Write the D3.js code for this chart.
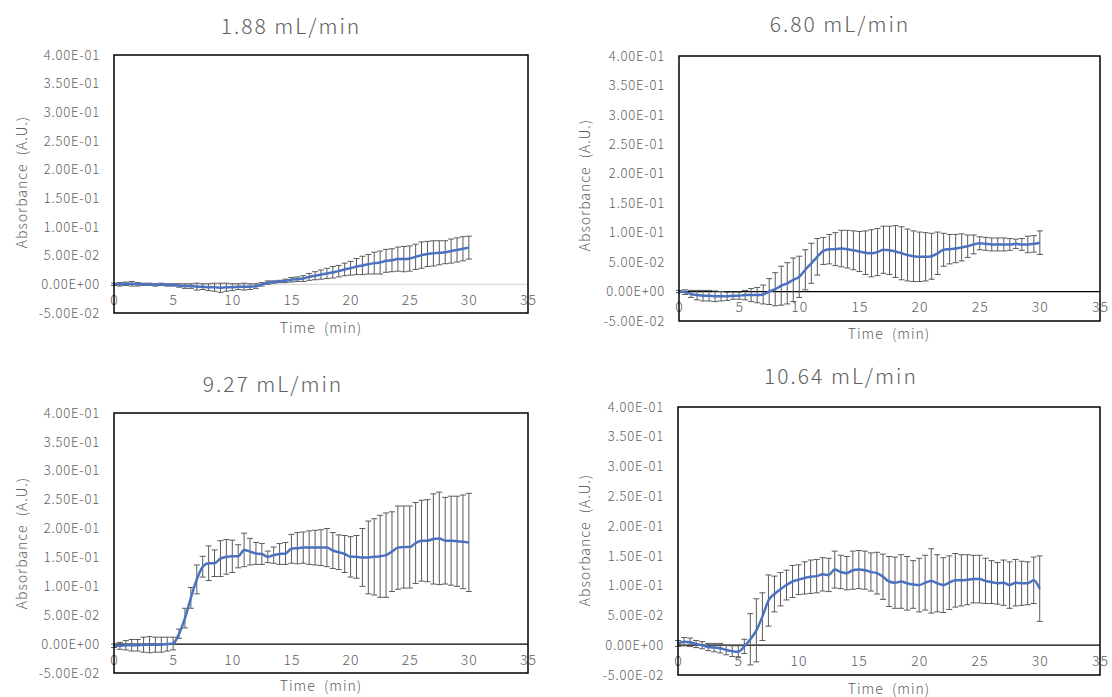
<!DOCTYPE html>
<html>
<head>
<meta charset="utf-8">
<script src="https://cdn.jsdelivr.net/npm/d3@7"></script>
<style>
  body { margin: 0; background: #fff; }
  svg text { font-family: "Noto Sans CJK JP", "Noto Sans", sans-serif; fill: #606060; font-weight: 300; white-space: pre; }
</style>
</head>
<body>
<svg id="chart" width="1112" height="697"></svg>
<script>
// sampling times (min), one point every 30 s
const times = [0, 0.5, 1, 1.5, 2, 2.5, 3, 3.5, 4, 4.5, 5, 5.5, 6, 6.5, 7, 7.5, 8, 8.5, 9, 9.5,
  10, 10.5, 11, 11.5, 12, 12.5, 13, 13.5, 14, 14.5, 15, 15.5, 16, 16.5, 17, 17.5, 18, 18.5, 19, 19.5,
  20, 20.5, 21, 21.5, 22, 22.5, 23, 23.5, 24, 24.5, 25, 25.5, 26, 26.5, 27, 27.5, 28, 28.5, 29, 29.5, 30];

const flowRates = ["1.88 mL/min", "6.80 mL/min", "9.27 mL/min", "10.64 mL/min"];

const xTicks = [0, 5, 10, 15, 20, 25, 30, 35];
const yTicks = [-0.05, 0, 0.05, 0.1, 0.15, 0.2, 0.25, 0.3, 0.35, 0.4];

// mean absorbance and error (A.U.)
const mean188 = [0.000, 0.000, 0.001, 0.001, 0.000, 0.000, 0.000, -0.001, 0.000, -0.001, -0.001,
  -0.002, -0.003, -0.003, -0.004, -0.004, -0.005, -0.005, -0.006, -0.005, -0.005, -0.004, -0.004,
  -0.004, -0.003, 0.000, 0.003, 0.004, 0.005, 0.006, 0.008, 0.009, 0.010, 0.013, 0.015, 0.017,
  0.019, 0.021, 0.023, 0.026, 0.028, 0.031, 0.033, 0.035, 0.037, 0.038, 0.041, 0.042, 0.044,
  0.044, 0.045, 0.048, 0.051, 0.053, 0.054, 0.055, 0.056, 0.058, 0.060, 0.062, 0.064];
const err188 = [0.002, 0.003, 0.003, 0.004, 0.003, 0.002, 0.002, 0.002, 0.002, 0.002, 0.002,
  0.003, 0.004, 0.004, 0.006, 0.005, 0.006, 0.007, 0.008, 0.007, 0.006, 0.005, 0.006, 0.005,
  0.004, 0.003, 0.003, 0.002, 0.002, 0.003, 0.004, 0.004, 0.005, 0.006, 0.007, 0.008, 0.009,
  0.010, 0.010, 0.011, 0.012, 0.014, 0.016, 0.017, 0.019, 0.020, 0.020, 0.020, 0.021, 0.022,
  0.022, 0.022, 0.023, 0.022, 0.022, 0.021, 0.020, 0.021, 0.021, 0.021, 0.020];

const mean680 = [0.000, -0.001, -0.004, -0.006, -0.007, -0.007, -0.008, -0.008, -0.008, -0.007,
  -0.007, -0.006, -0.006, -0.006, -0.005, 0.000, 0.004, 0.010, 0.014, 0.020, 0.025, 0.037, 0.048,
  0.059, 0.069, 0.072, 0.072, 0.073, 0.072, 0.070, 0.068, 0.066, 0.065, 0.067, 0.071, 0.070,
  0.068, 0.065, 0.062, 0.060, 0.059, 0.059, 0.060, 0.065, 0.071, 0.072, 0.073, 0.075, 0.077,
  0.080, 0.082, 0.081, 0.080, 0.080, 0.080, 0.080, 0.081, 0.080, 0.080, 0.081, 0.083];
const err680 = [0.002, 0.004, 0.006, 0.008, 0.009, 0.009, 0.009, 0.008, 0.007, 0.006, 0.006,
  0.008, 0.011, 0.013, 0.016, 0.022, 0.028, 0.033, 0.035, 0.037, 0.035, 0.034, 0.034, 0.031,
  0.023, 0.025, 0.028, 0.031, 0.032, 0.033, 0.034, 0.037, 0.040, 0.040, 0.040, 0.041, 0.044,
  0.045, 0.044, 0.043, 0.042, 0.041, 0.039, 0.036, 0.028, 0.025, 0.024, 0.023, 0.019, 0.016,
  0.011, 0.011, 0.011, 0.011, 0.011, 0.010, 0.008, 0.010, 0.014, 0.014, 0.020];

const mean927 = [-0.003, -0.003, -0.002, -0.002, -0.002, -0.001, -0.001, -0.001, -0.001, 0.000,
  0.001, 0.018, 0.045, 0.080, 0.112, 0.134, 0.140, 0.140, 0.148, 0.151, 0.152, 0.152, 0.163,
  0.160, 0.157, 0.156, 0.151, 0.154, 0.156, 0.157, 0.165, 0.166, 0.167, 0.167, 0.167, 0.167,
  0.167, 0.162, 0.159, 0.156, 0.151, 0.151, 0.150, 0.150, 0.151, 0.152, 0.154, 0.160, 0.167,
  0.168, 0.168, 0.175, 0.179, 0.179, 0.182, 0.183, 0.179, 0.179, 0.178, 0.177, 0.176];
const err927 = [0.003, 0.006, 0.008, 0.010, 0.010, 0.013, 0.014, 0.013, 0.013, 0.012, 0.011,
  0.008, 0.017, 0.018, 0.025, 0.018, 0.030, 0.023, 0.031, 0.030, 0.028, 0.020, 0.029, 0.023,
  0.019, 0.018, 0.010, 0.014, 0.018, 0.019, 0.025, 0.027, 0.027, 0.029, 0.030, 0.031, 0.033,
  0.031, 0.030, 0.032, 0.035, 0.037, 0.050, 0.063, 0.066, 0.071, 0.073, 0.069, 0.072, 0.071,
  0.071, 0.070, 0.070, 0.071, 0.078, 0.080, 0.075, 0.077, 0.078, 0.081, 0.085];

const mean1064 = [0.003, 0.006, 0.005, 0.002, 0.000, -0.003, -0.004, -0.005, -0.008, -0.010,
  -0.011, -0.002, 0.010, 0.025, 0.048, 0.075, 0.086, 0.094, 0.101, 0.107, 0.110, 0.113, 0.115,
  0.116, 0.119, 0.118, 0.127, 0.123, 0.121, 0.126, 0.127, 0.126, 0.123, 0.121, 0.115, 0.107,
  0.105, 0.107, 0.104, 0.102, 0.101, 0.105, 0.108, 0.104, 0.101, 0.105, 0.109, 0.109, 0.110,
  0.111, 0.111, 0.108, 0.106, 0.104, 0.105, 0.101, 0.105, 0.104, 0.104, 0.109, 0.095];
const err1064 = [0.005, 0.007, 0.007, 0.006, 0.006, 0.006, 0.007, 0.008, 0.008, 0.009, 0.010,
  0.012, 0.043, 0.053, 0.040, 0.043, 0.030, 0.028, 0.025, 0.027, 0.025, 0.027, 0.028, 0.028,
  0.028, 0.028, 0.031, 0.028, 0.028, 0.032, 0.032, 0.032, 0.032, 0.035, 0.038, 0.042, 0.043,
  0.045, 0.045, 0.040, 0.045, 0.046, 0.054, 0.048, 0.046, 0.045, 0.045, 0.043, 0.042, 0.040,
  0.040, 0.038, 0.036, 0.035, 0.038, 0.039, 0.039, 0.037, 0.036, 0.039, 0.055];

// where each small chart sits on the page
const panels = [
  { title: flowRates[0], mean: mean188, err: err188, left: 114, right: 528, top: 55, bottom: 313,
    tx: 291, ty: 25, yl: [21, 182], xl: [321, 327], zero: "#d9d9d9" },
  { title: flowRates[1], mean: mean680, err: err680, left: 679, right: 1100, top: 56, bottom: 321,
    tx: 840, ty: 23, yl: [584, 185], xl: [889, 333], zero: "#000" },
  { title: flowRates[2], mean: mean927, err: err927, left: 114, right: 528, top: 413, bottom: 673,
    tx: 273, ty: 383, yl: [21, 543], xl: [321, 685], zero: "#000" },
  { title: flowRates[3], mean: mean1064, err: err1064, left: 678, right: 1100, top: 407, bottom: 675,
    tx: 841, ty: 375, yl: [584, 540], xl: [889, 688], zero: "#000" }
];

function sci(v) {
  if (v === 0) return "0.00E+00";
  let [m, e] = v.toExponential(2).split("e");
  let n = +e;
  return m + "E" + (n < 0 ? "-" : "+") + String(Math.abs(n)).padStart(2, "0");
}

const svg = d3.select("#chart");

panels.forEach(p => {
  let x = d3.scaleLinear().domain([0, 35]).range([p.left, p.right]);
  let y = d3.scaleLinear().domain([-0.05, 0.4]).range([p.bottom, p.top]);
  let g = svg.append("g");

  let pts = times.map((t, i) => ({ t: t, v: p.mean[i], e: p.err[i] }));

  // zero line
  g.append("line")
    .attr("x1", p.left).attr("x2", p.right)
    .attr("y1", y(0)).attr("y2", y(0))
    .attr("stroke", p.zero).attr("stroke-width", 1.3);

  // y axis labels
  g.append("g")
    .attr("transform", `translate(${p.left},0)`)
    .call(d3.axisLeft(y).tickValues(yTicks).tickFormat(sci).tickSize(0).tickPadding(14))
    .call(a => a.select(".domain").remove())
    .selectAll("text")
    .style("font-size", "13px")
    .style("letter-spacing", "0.8px")
    .style("font-family", null)
    .attr("fill", null);

  // x axis labels sit under the zero line
  g.append("g")
    .attr("transform", `translate(0,${y(0)})`)
    .call(d3.axisBottom(x).tickValues(xTicks).tickFormat(d3.format("d")).tickSize(0).tickPadding(11))
    .call(a => a.select(".domain").remove())
    .selectAll("text")
    .style("font-size", "14px")
    .style("letter-spacing", "1px")
    .style("font-family", null)
    .attr("fill", null);

  // error bars
  let bars = g.append("g").attr("stroke", "#5a5a5a").attr("stroke-width", 1);
  bars.selectAll("line.v").data(pts).enter().append("line")
    .attr("x1", d => x(d.t)).attr("x2", d => x(d.t))
    .attr("y1", d => y(d.v + d.e)).attr("y2", d => y(d.v - d.e));
  bars.selectAll("line.top").data(pts).enter().append("line")
    .attr("x1", d => x(d.t) - 3).attr("x2", d => x(d.t) + 3)
    .attr("y1", d => y(d.v + d.e)).attr("y2", d => y(d.v + d.e));
  bars.selectAll("line.bot").data(pts).enter().append("line")
    .attr("x1", d => x(d.t) - 3).attr("x2", d => x(d.t) + 3)
    .attr("y1", d => y(d.v - d.e)).attr("y2", d => y(d.v - d.e));

  // mean line
  g.append("path")
    .datum(pts)
    .attr("fill", "none")
    .attr("stroke", "#4a72c0")
    .attr("stroke-width", 2.5)
    .attr("d", d3.line().x(d => x(d.t)).y(d => y(d.v)).curve(d3.curveMonotoneX));

  // plot frame
  g.append("rect")
    .attr("x", p.left).attr("y", p.top)
    .attr("width", p.right - p.left).attr("height", p.bottom - p.top)
    .attr("fill", "none").attr("stroke", "#000").attr("stroke-width", 1.5);

  g.append("text")
    .attr("x", p.tx).attr("y", p.ty)
    .attr("text-anchor", "middle").attr("dominant-baseline", "central")
    .style("font-size", "21px").style("letter-spacing", "2px")
    .text(p.title);

  g.append("text")
    .attr("transform", `translate(${p.yl[0]},${p.yl[1]}) rotate(-90)`)
    .attr("text-anchor", "middle").attr("dominant-baseline", "central")
    .style("font-size", "14px").style("letter-spacing", "1px")
    .text("Absorbance  (A.U.)");

  g.append("text")
    .attr("x", p.xl[0]).attr("y", p.xl[1])
    .attr("text-anchor", "middle").attr("dominant-baseline", "central")
    .style("font-size", "14px").style("letter-spacing", "1px")
    .text("Time  (min)");
});
</script>
</body>
</html>
